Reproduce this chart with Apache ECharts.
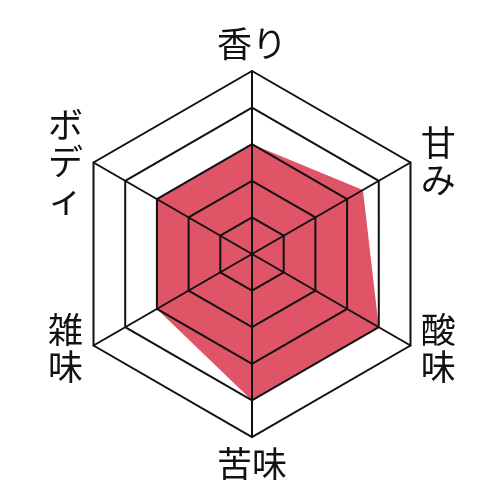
<!DOCTYPE html>
<html>
<head>
<meta charset="utf-8">
<script src="https://cdn.jsdelivr.net/npm/echarts@6/dist/echarts.min.js"></script>
<style>
html,body{margin:0;padding:0;background:#fff;}
#c{width:500px;height:500px;}
</style>
</head>
<body>
<div id="c"></div>
<script>
// Indicators in ECharts order (top, then counter-clockwise)
const categories = ['香り', 'ボディ', '雑味', '苦味', '酸味', '甘み'];
const values = [3, 3, 3, 4, 4, 3.5];
const maxValue = 5;
const upperSideNames = ['ボディ', '甘み'];
const lowerSideNames = ['雑味', '酸味'];

function nameFormatter(name) {
  const chars = name.split('');
  if (upperSideNames.indexOf(name) >= 0) {
    return chars.map((c, i) => '{' + (i === 0 ? 'u' : 'n') + '|' + c + '}').join('\n');
  }
  if (lowerSideNames.indexOf(name) >= 0) {
    return chars.map((c, i) => '{' + (i === chars.length - 1 ? 'l' : 'n') + '|' + c + '}').join('\n');
  }
  return '{h|' + name + '}';
}

const baseText = { color: '#111', fontSize: 35, fontFamily: '"Noto Sans CJK JP", sans-serif' };

const chart = echarts.init(document.getElementById('c'), null, {renderer: 'canvas'});
chart.setOption({
  backgroundColor: '#ffffff',
  animation: false,
  radar: {
    z: 5,
    center: [252, 254],
    radius: 183,
    startAngle: 90,
    shape: 'polygon',
    splitNumber: 5,
    nameGap: 12,
    indicator: categories.map(n => ({ name: n, max: maxValue, min: 0 })),
    axisName: Object.assign({}, baseText, {
      formatter: nameFormatter,
      rich: {
        h: Object.assign({}, baseText, { lineHeight: 30 }),
        n: Object.assign({}, baseText, { lineHeight: 37, height: 37 }),
        u: Object.assign({}, baseText, { lineHeight: 47, height: 37, verticalAlign: 'bottom' }),
        l: Object.assign({}, baseText, { lineHeight: 43, height: 37, verticalAlign: 'top' })
      }
    }),
    axisLine: { lineStyle: { color: '#111', width: 2 } },
    splitLine: { lineStyle: { color: '#111', width: 2 } },
    splitArea: { show: false },
    axisTick: { show: false },
    axisLabel: { show: false }
  },
  series: [{
    type: 'radar',
    z: 2,
    symbol: 'none',
    lineStyle: { width: 0, color: '#e05468' },
    areaStyle: { color: '#e05468', opacity: 1 },
    data: [{ value: values }]
  }]
});
</script>
</body>
</html>
